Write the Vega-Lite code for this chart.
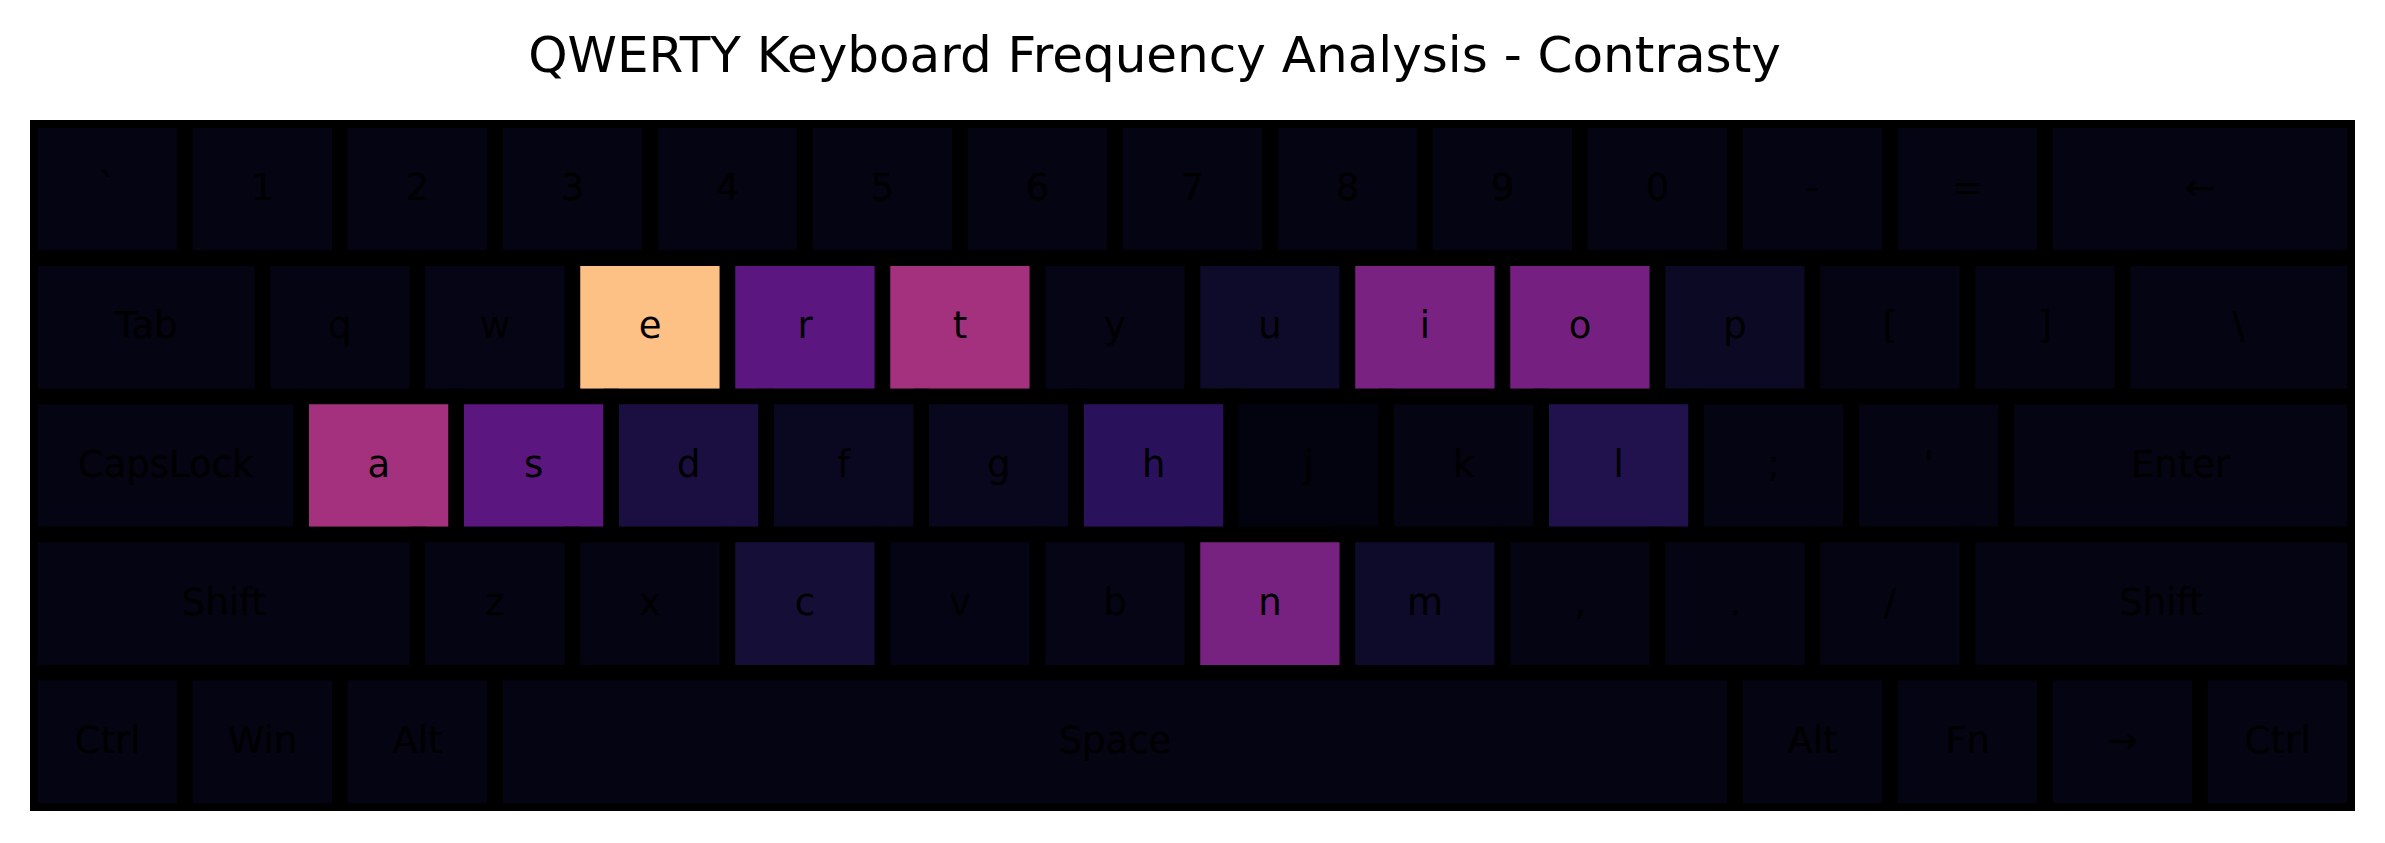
{
  "$schema": "https://vega.github.io/schema/vega-lite/v6.json",
  "width": 2325,
  "height": 691,
  "autosize": {"type": "none"},
  "padding": {"left": 30, "top": 120, "right": 30, "bottom": 32},
  "background": "white",
  "config": {"view": {"fill": "black", "stroke": null}},
  "title": {
    "text": "QWERTY Keyboard Frequency Analysis - Contrasty",
    "font": "DejaVu Sans",
    "fontSize": 50,
    "fontWeight": "normal",
    "color": "black",
    "anchor": "middle",
    "frame": "group",
    "baseline": "alphabetic",
    "offset": -2,
    "dx": -38
  },
  "data": {
    "values": [
      {"id": 1, "row": 0, "key": "`", "start": 0, "end": 1, "freq": 3},
      {"id": 2, "row": 0, "key": "1", "start": 1, "end": 2, "freq": 3},
      {"id": 3, "row": 0, "key": "2", "start": 2, "end": 3, "freq": 3},
      {"id": 4, "row": 0, "key": "3", "start": 3, "end": 4, "freq": 3},
      {"id": 5, "row": 0, "key": "4", "start": 4, "end": 5, "freq": 3},
      {"id": 6, "row": 0, "key": "5", "start": 5, "end": 6, "freq": 3},
      {"id": 7, "row": 0, "key": "6", "start": 6, "end": 7, "freq": 3},
      {"id": 8, "row": 0, "key": "7", "start": 7, "end": 8, "freq": 3},
      {"id": 9, "row": 0, "key": "8", "start": 8, "end": 9, "freq": 3},
      {"id": 10, "row": 0, "key": "9", "start": 9, "end": 10, "freq": 3},
      {"id": 11, "row": 0, "key": "0", "start": 10, "end": 11, "freq": 3},
      {"id": 12, "row": 0, "key": "-", "start": 11, "end": 12, "freq": 3},
      {"id": 13, "row": 0, "key": "=", "start": 12, "end": 13, "freq": 3},
      {"id": 14, "row": 0, "key": "←", "start": 13, "end": 15, "freq": 3},
      {"id": 15, "row": 1, "key": "Tab", "start": 0, "end": 1.5, "freq": 3},
      {"id": 16, "row": 1, "key": "q", "start": 1.5, "end": 2.5, "freq": 3},
      {"id": 17, "row": 1, "key": "w", "start": 2.5, "end": 3.5, "freq": 4},
      {"id": 18, "row": 1, "key": "e", "start": 3.5, "end": 4.5, "freq": 87},
      {"id": 19, "row": 1, "key": "r", "start": 4.5, "end": 5.5, "freq": 27.5},
      {"id": 20, "row": 1, "key": "t", "start": 5.5, "end": 6.5, "freq": 45.5},
      {"id": 21, "row": 1, "key": "y", "start": 6.5, "end": 7.5, "freq": 4},
      {"id": 22, "row": 1, "key": "u", "start": 7.5, "end": 8.5, "freq": 7.5},
      {"id": 23, "row": 1, "key": "i", "start": 8.5, "end": 9.5, "freq": 35},
      {"id": 24, "row": 1, "key": "o", "start": 9.5, "end": 10.5, "freq": 34},
      {"id": 25, "row": 1, "key": "p", "start": 10.5, "end": 11.5, "freq": 6.5},
      {"id": 26, "row": 1, "key": "[", "start": 11.5, "end": 12.5, "freq": 3},
      {"id": 27, "row": 1, "key": "]", "start": 12.5, "end": 13.5, "freq": 3},
      {"id": 28, "row": 1, "key": "\\", "start": 13.5, "end": 15, "freq": 3},
      {"id": 29, "row": 2, "key": "CapsLock", "start": 0, "end": 1.75, "freq": 3},
      {"id": 30, "row": 2, "key": "a", "start": 1.75, "end": 2.75, "freq": 45.5},
      {"id": 31, "row": 2, "key": "s", "start": 2.75, "end": 3.75, "freq": 27.5},
      {"id": 32, "row": 2, "key": "d", "start": 3.75, "end": 4.75, "freq": 11.5},
      {"id": 33, "row": 2, "key": "f", "start": 4.75, "end": 5.75, "freq": 6},
      {"id": 34, "row": 2, "key": "g", "start": 5.75, "end": 6.75, "freq": 5.5},
      {"id": 35, "row": 2, "key": "h", "start": 6.75, "end": 7.75, "freq": 16},
      {"id": 36, "row": 2, "key": "j", "start": 7.75, "end": 8.75, "freq": 2.5},
      {"id": 37, "row": 2, "key": "k", "start": 8.75, "end": 9.75, "freq": 3},
      {"id": 38, "row": 2, "key": "l", "start": 9.75, "end": 10.75, "freq": 13.5},
      {"id": 39, "row": 2, "key": ";", "start": 10.75, "end": 11.75, "freq": 3},
      {"id": 40, "row": 2, "key": "'", "start": 11.75, "end": 12.75, "freq": 3},
      {"id": 41, "row": 2, "key": "Enter", "start": 12.75, "end": 15, "freq": 3},
      {"id": 42, "row": 3, "key": "Shift", "start": 0, "end": 2.5, "freq": 3},
      {"id": 43, "row": 3, "key": "z", "start": 2.5, "end": 3.5, "freq": 3},
      {"id": 44, "row": 3, "key": "x", "start": 3.5, "end": 4.5, "freq": 3},
      {"id": 45, "row": 3, "key": "c", "start": 4.5, "end": 5.5, "freq": 10},
      {"id": 46, "row": 3, "key": "v", "start": 5.5, "end": 6.5, "freq": 3.5},
      {"id": 47, "row": 3, "key": "b", "start": 6.5, "end": 7.5, "freq": 4},
      {"id": 48, "row": 3, "key": "n", "start": 7.5, "end": 8.5, "freq": 34.5},
      {"id": 49, "row": 3, "key": "m", "start": 8.5, "end": 9.5, "freq": 7.5},
      {"id": 50, "row": 3, "key": ",", "start": 9.5, "end": 10.5, "freq": 3},
      {"id": 51, "row": 3, "key": ".", "start": 10.5, "end": 11.5, "freq": 3},
      {"id": 52, "row": 3, "key": "/", "start": 11.5, "end": 12.5, "freq": 3},
      {"id": 53, "row": 3, "key": "Shift", "start": 12.5, "end": 15, "freq": 3},
      {"id": 54, "row": 4, "key": "Ctrl", "start": 0, "end": 1, "freq": 3},
      {"id": 55, "row": 4, "key": "Win", "start": 1, "end": 2, "freq": 3},
      {"id": 56, "row": 4, "key": "Alt", "start": 2, "end": 3, "freq": 3},
      {"id": 57, "row": 4, "key": "Space", "start": 3, "end": 11, "freq": 3},
      {"id": 58, "row": 4, "key": "Alt", "start": 11, "end": 12, "freq": 3},
      {"id": 59, "row": 4, "key": "Fn", "start": 12, "end": 13, "freq": 3},
      {"id": 60, "row": 4, "key": "→", "start": 13, "end": 14, "freq": 3},
      {"id": 61, "row": 4, "key": "Ctrl", "start": 14, "end": 15, "freq": 3}
    ]
  },
  "layer": [
    {
      "mark": {"type": "rect", "stroke": "black", "strokeWidth": 15.5, "clip": true},
      "encoding": {
        "x": {"field": "start", "type": "quantitative", "scale": {"domain": [0, 15], "nice": false, "zero": false}, "axis": null},
        "x2": {"field": "end"},
        "y": {"field": "row", "type": "ordinal", "scale": {"domain": [0, 1, 2, 3, 4], "paddingInner": 0, "paddingOuter": 0}, "axis": null},
        "color": {"field": "freq", "type": "quantitative", "scale": {"scheme": "magma", "domain": [0, 100], "clamp": true}, "legend": null}
      }
    },
    {
      "transform": [{"fold": ["start", "end"], "as": ["edge", "pos"]}],
      "mark": {"type": "text", "font": "DejaVu Sans", "fontSize": 37, "color": "black", "align": "center", "baseline": "alphabetic", "dy": 11},
      "encoding": {
        "x": {"field": "pos", "aggregate": "mean", "type": "quantitative"},
        "y": {"field": "row", "type": "ordinal"},
        "text": {"field": "key", "type": "nominal"},
        "detail": {"field": "id", "type": "nominal"}
      }
    }
  ]
}
